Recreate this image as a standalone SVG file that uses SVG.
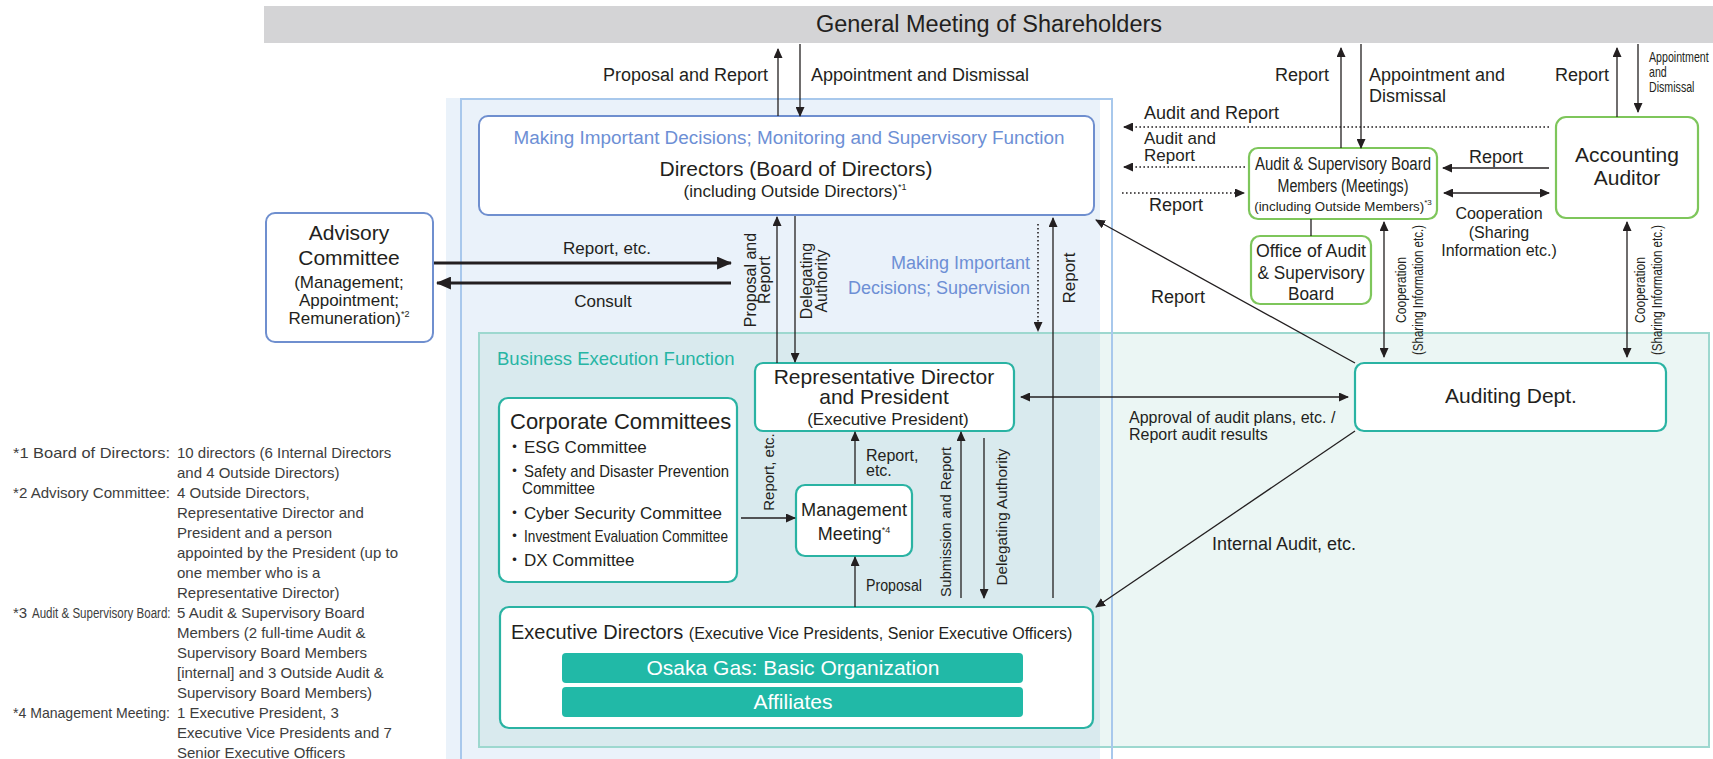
<svg xmlns="http://www.w3.org/2000/svg" width="1713" height="759" viewBox="0 0 1713 759">
<style>
text{font-family:"Liberation Sans",Arial,"Noto Sans CJK JP",sans-serif;fill:#231f20}
.m{text-anchor:middle}
.e{text-anchor:end}
.blue{fill:#6d8fd5}
.teal{fill:#27b5a4}
.w{fill:#ffffff}
.note{font-size:15px;fill:#3d3d3d}
.bb{fill:#fff;stroke:#6f8fcf;stroke-width:2}
.gb{fill:#fff;stroke:#7ec65b;stroke-width:2.2}
.tb{fill:#fff;stroke:#2ab3a3;stroke-width:2.2}
.ln{fill:none;stroke:#231f20;stroke-width:1.3}
.thk{fill:none;stroke:#231f20;stroke-width:3}
.dot{fill:none;stroke:#231f20;stroke-width:1.6;stroke-dasharray:1.6 2.4}
.ar{marker-end:url(#a)}
.dbl{marker-start:url(#a);marker-end:url(#a)}
</style>
<defs>
<marker id="a" viewBox="0 0 10 9" refX="9" refY="4.5" markerWidth="10" markerHeight="9" markerUnits="userSpaceOnUse" orient="auto-start-reverse"><path d="M0,0L10,4.5L0,9z" fill="#231f20"/></marker>
<marker id="b" viewBox="0 0 14 12" refX="13" refY="6" markerWidth="15" markerHeight="13" markerUnits="userSpaceOnUse" orient="auto-start-reverse"><path d="M0,0L14,6L0,12z" fill="#231f20"/></marker>
</defs>

<g id="regions">
<rect x="446" y="98" width="654" height="661" fill="#eaf2fa"/>
<rect x="479" y="333" width="1230" height="414" fill="#ebf6f4"/>
<rect x="479" y="333" width="621" height="414" fill="#d9eaee"/>
<rect x="479" y="333" width="1230" height="414" fill="none" stroke="#9dd8cf" stroke-width="2"/>
<rect x="461" y="99" width="651" height="690" fill="none" stroke="#a8c8ec" stroke-width="2"/>
<text x="497" y="365" class="teal" font-size="18.5">Business Execution Function</text>
<text x="1030" y="269" class="e blue" font-size="18">Making Important</text>
<text x="1030" y="294" class="e blue" font-size="18">Decisions; Supervision</text>
</g>

<g id="n-gms">
<rect x="264" y="6" width="1449" height="37" fill="#d4d4d6"/>
<text x="989" y="32" class="m" font-size="23.5">General Meeting of Shareholders</text>
</g>

<g id="n-advisory">
<rect x="266" y="213" width="167" height="129" rx="9" class="bb"/>
<text x="349" y="240" class="m" font-size="21">Advisory</text>
<text x="349" y="265" class="m" font-size="21">Committee</text>
<text x="349" y="288" class="m" font-size="17">(Management;</text>
<text x="349" y="306" class="m" font-size="17">Appointment;</text>
<text x="349" y="324" class="m" font-size="17">Remuneration)<tspan font-size="9" dy="-7">*2</tspan></text>
</g>

<g id="n-directors">
<rect x="479" y="116" width="615" height="99" rx="9" class="bb"/>
<text x="789" y="144" class="m blue" font-size="18" textLength="551" lengthAdjust="spacingAndGlyphs">Making Important Decisions; Monitoring and Supervisory Function</text>
<text x="796" y="176" class="m" font-size="21">Directors (Board of Directors)</text>
<text x="795" y="197" class="m" font-size="17">(including Outside Directors)<tspan font-size="9" dy="-7">*1</tspan></text>
</g>

<g id="n-rep">
<rect x="755" y="363" width="259" height="68" rx="8" class="tb"/>
<text x="884" y="384" class="m" font-size="21">Representative Director</text>
<text x="884" y="404" class="m" font-size="21">and President</text>
<text x="888" y="425" class="m" font-size="17">(Executive President)</text>
</g>

<g id="n-cc">
<rect x="499" y="398" width="238" height="184" rx="9" class="tb"/>
<text x="510" y="429" font-size="22">Corporate Committees</text>
<text x="506" y="453" font-size="17">・<tspan x="524">ESG Committee</tspan></text>
<text x="506" y="477" font-size="17">・<tspan x="524" textLength="205" lengthAdjust="spacingAndGlyphs">Safety and Disaster Prevention</tspan></text>
<text x="522" y="494" font-size="17" textLength="73" lengthAdjust="spacingAndGlyphs">Committee</text>
<text x="506" y="519" font-size="17">・<tspan x="524" textLength="198" lengthAdjust="spacingAndGlyphs">Cyber Security Committee</tspan></text>
<text x="506" y="542" font-size="17">・<tspan x="524" textLength="204" lengthAdjust="spacingAndGlyphs">Investment Evaluation Committee</tspan></text>
<text x="506" y="566" font-size="17">・<tspan x="524">DX Committee</tspan></text>
</g>

<g id="n-mm">
<rect x="796" y="485" width="116" height="71" rx="9" class="tb"/>
<text x="854" y="516" class="m" font-size="18" textLength="106" lengthAdjust="spacingAndGlyphs">Management</text>
<text x="854" y="540" class="m" font-size="18">Meeting<tspan font-size="9" dy="-7">*4</tspan></text>
</g>

<g id="n-ed">
<rect x="500" y="607" width="593" height="121" rx="9" class="tb"/>
<text x="511" y="639" font-size="20">Executive Directors <tspan font-size="16">(Executive Vice Presidents, Senior Executive Officers)</tspan></text>
<rect x="562" y="653" width="461" height="30" rx="4" fill="#21b9a7"/>
<text x="793" y="675" class="m w" font-size="21">Osaka Gas: Basic Organization</text>
<rect x="562" y="687" width="461" height="30" rx="4" fill="#21b9a7"/>
<text x="793" y="709" class="m w" font-size="21">Affiliates</text>
</g>

<g id="n-asb">
<rect x="1249" y="148" width="188" height="71" rx="9" class="gb"/>
<text x="1343" y="170" class="m" font-size="18" textLength="176" lengthAdjust="spacingAndGlyphs">Audit &amp; Supervisory Board</text>
<text x="1343" y="192" class="m" font-size="18" textLength="131" lengthAdjust="spacingAndGlyphs">Members (Meetings)</text>
<text x="1343" y="211" class="m" font-size="13.3">(including Outside Members)<tspan font-size="8" dy="-6">*3</tspan></text>
</g>

<g id="n-office">
<rect x="1251" y="236" width="120" height="68" rx="9" class="gb"/>
<text x="1311" y="257" class="m" font-size="19" textLength="110" lengthAdjust="spacingAndGlyphs">Office of Audit</text>
<text x="1311" y="279" class="m" font-size="19" textLength="107" lengthAdjust="spacingAndGlyphs">&amp; Supervisory</text>
<text x="1311" y="300" class="m" font-size="19" textLength="46" lengthAdjust="spacingAndGlyphs">Board</text>
</g>

<g id="n-acc">
<rect x="1556" y="117" width="142" height="101" rx="10" class="gb"/>
<text x="1627" y="162" class="m" font-size="21">Accounting</text>
<text x="1627" y="185" class="m" font-size="21">Auditor</text>
</g>

<g id="n-audit">
<rect x="1355" y="363" width="311" height="68" rx="9" class="tb"/>
<text x="1511" y="403" class="m" font-size="21">Auditing Dept.</text>
</g>

<g id="connectors">
<line x1="778" y1="116" x2="778" y2="49" class="ln ar"/>
<line x1="800" y1="44" x2="800" y2="116" class="ln ar"/>
<line x1="1341" y1="148" x2="1341" y2="48" class="ln ar"/>
<line x1="1361" y1="44" x2="1361" y2="148" class="ln ar"/>
<line x1="1617" y1="117" x2="1617" y2="48" class="ln ar"/>
<line x1="1638" y1="44" x2="1638" y2="112" class="ln ar"/>
<line x1="1549" y1="127" x2="1124" y2="127" class="dot ar"/>
<line x1="1245" y1="167" x2="1124" y2="167" class="dot ar"/>
<line x1="1122" y1="193" x2="1244" y2="193" class="dot ar"/>
<line x1="1549" y1="168" x2="1443" y2="168" class="ln ar"/>
<line x1="1444" y1="193" x2="1549" y2="193" class="ln dbl"/>
<line x1="1311" y1="219" x2="1311" y2="236" class="ln"/>
<line x1="1384" y1="222" x2="1384" y2="357" class="ln dbl"/>
<line x1="1627" y1="222" x2="1627" y2="357" class="ln dbl"/>
<line x1="1355" y1="363" x2="1096" y2="220" class="ln ar"/>
<line x1="1021" y1="397" x2="1348" y2="397" class="ln dbl"/>
<line x1="1355" y1="431" x2="1096" y2="607" class="ln ar"/>
<line x1="434" y1="263" x2="731" y2="263" class="thk" marker-end="url(#b)"/>
<line x1="731" y1="283" x2="437" y2="283" class="thk" marker-end="url(#b)"/>
<line x1="777" y1="363" x2="777" y2="217" class="ln ar"/>
<line x1="795" y1="216" x2="795" y2="362" class="ln ar"/>
<line x1="1038" y1="224" x2="1038" y2="331" class="dot ar"/>
<line x1="1053" y1="598" x2="1053" y2="218" class="ln ar"/>
<line x1="741" y1="518" x2="795" y2="518" class="ln ar"/>
<line x1="855" y1="484" x2="855" y2="432" class="ln ar"/>
<line x1="855" y1="607" x2="855" y2="557" class="ln ar"/>
<line x1="961" y1="598" x2="961" y2="432" class="ln ar"/>
<line x1="984" y1="438" x2="984" y2="598" class="ln ar"/>
</g>

<g id="labels">
<text x="768" y="81" class="e" font-size="18">Proposal and Report</text>
<text x="811" y="81" font-size="18">Appointment and Dismissal</text>
<text x="1329" y="81" class="e" font-size="18">Report</text>
<text x="1369" y="81" font-size="18">Appointment and</text>
<text x="1369" y="102" font-size="18">Dismissal</text>
<text x="1609" y="81" class="e" font-size="18">Report</text>
<text transform="translate(1649,62) scale(0.76,1)" font-size="14">Appointment</text>
<text transform="translate(1649,77) scale(0.76,1)" font-size="14">and</text>
<text transform="translate(1649,92) scale(0.76,1)" font-size="14">Dismissal</text>
<text x="1144" y="119" font-size="18">Audit and Report</text>
<text x="1144" y="144" font-size="17">Audit and</text>
<text x="1144" y="161" font-size="17">Report</text>
<text x="1149" y="211" font-size="18">Report</text>
<text x="1496" y="163" class="m" font-size="18">Report</text>
<text x="1499" y="219" class="m" font-size="16">Cooperation</text>
<text x="1499" y="238" class="m" font-size="16">(Sharing</text>
<text x="1499" y="256" class="m" font-size="16">Information etc.)</text>
<text x="1151" y="303" font-size="18">Report</text>
<text x="1129" y="423" font-size="16">Approval of audit plans, etc. /</text>
<text x="1129" y="440" font-size="16">Report audit results</text>
<text x="1212" y="550" font-size="18">Internal Audit, etc.</text>
<text x="607" y="254" class="m" font-size="17">Report, etc.</text>
<text x="603" y="307" class="m" font-size="17">Consult</text>
<text x="866" y="461" font-size="16">Report,</text>
<text x="866" y="476" font-size="16">etc.</text>
<text x="866" y="591" font-size="16" textLength="56" lengthAdjust="spacingAndGlyphs">Proposal</text>
<g transform="translate(756,280) rotate(-90)"><text class="m" font-size="16">Proposal and</text></g>
<g transform="translate(770,280) rotate(-90)"><text class="m" font-size="16">Report</text></g>
<g transform="translate(812,281) rotate(-90)"><text class="m" font-size="16">Delegating</text></g>
<g transform="translate(827,281) rotate(-90)"><text class="m" font-size="16">Authority</text></g>
<g transform="translate(1075,278) rotate(-90)"><text class="m" font-size="17">Report</text></g>
<g transform="translate(774,472) rotate(-90)"><text class="m" font-size="15">Report, etc.</text></g>
<g transform="translate(951,522) rotate(-90)"><text class="m" font-size="15" textLength="150" lengthAdjust="spacingAndGlyphs">Submission and Report</text></g>
<g transform="translate(1007,517) rotate(-90)"><text class="m" font-size="15" textLength="137" lengthAdjust="spacingAndGlyphs">Delegating Authority</text></g>
<g transform="translate(1406,290) rotate(-90)"><text class="m" font-size="15" textLength="66" lengthAdjust="spacingAndGlyphs">Cooperation</text></g>
<g transform="translate(1423,290) rotate(-90)"><text class="m" font-size="15" textLength="130" lengthAdjust="spacingAndGlyphs">(Sharing Information etc.)</text></g>
<g transform="translate(1645,290) rotate(-90)"><text class="m" font-size="15" textLength="66" lengthAdjust="spacingAndGlyphs">Cooperation</text></g>
<g transform="translate(1662,290) rotate(-90)"><text class="m" font-size="15" textLength="130" lengthAdjust="spacingAndGlyphs">(Sharing Information etc.)</text></g>
</g>

<g id="notes">
<text x="13" y="458" class="note" textLength="157" lengthAdjust="spacingAndGlyphs">*1 Board of Directors:</text>
<text x="177" y="458" class="note">10 directors (6 Internal Directors</text>
<text x="177" y="478" class="note">and 4 Outside Directors)</text>
<text x="13" y="498" class="note" textLength="157" lengthAdjust="spacingAndGlyphs">*2 Advisory Committee:</text>
<text x="177" y="498" class="note">4 Outside Directors,</text>
<text x="177" y="518" class="note">Representative Director and</text>
<text x="177" y="538" class="note">President and a person</text>
<text x="177" y="558" class="note">appointed by the President (up to</text>
<text x="177" y="578" class="note">one member who is a</text>
<text x="177" y="598" class="note">Representative Director)</text>
<text x="13" y="618" class="note">*3</text>
<text transform="translate(32,618) scale(0.77,1)" class="note">Audit &amp; Supervisory Board:</text>
<text x="177" y="618" class="note">5 Audit &amp; Supervisory Board</text>
<text x="177" y="638" class="note">Members (2 full-time Audit &amp;</text>
<text x="177" y="658" class="note">Supervisory Board Members</text>
<text x="177" y="678" class="note">[internal] and 3 Outside Audit &amp;</text>
<text x="177" y="698" class="note">Supervisory Board Members)</text>
<text x="13" y="718" class="note" textLength="157" lengthAdjust="spacingAndGlyphs">*4 Management Meeting:</text>
<text x="177" y="718" class="note">1 Executive President, 3</text>
<text x="177" y="738" class="note">Executive Vice Presidents and 7</text>
<text x="177" y="758" class="note">Senior Executive Officers</text>
</g>
</svg>
